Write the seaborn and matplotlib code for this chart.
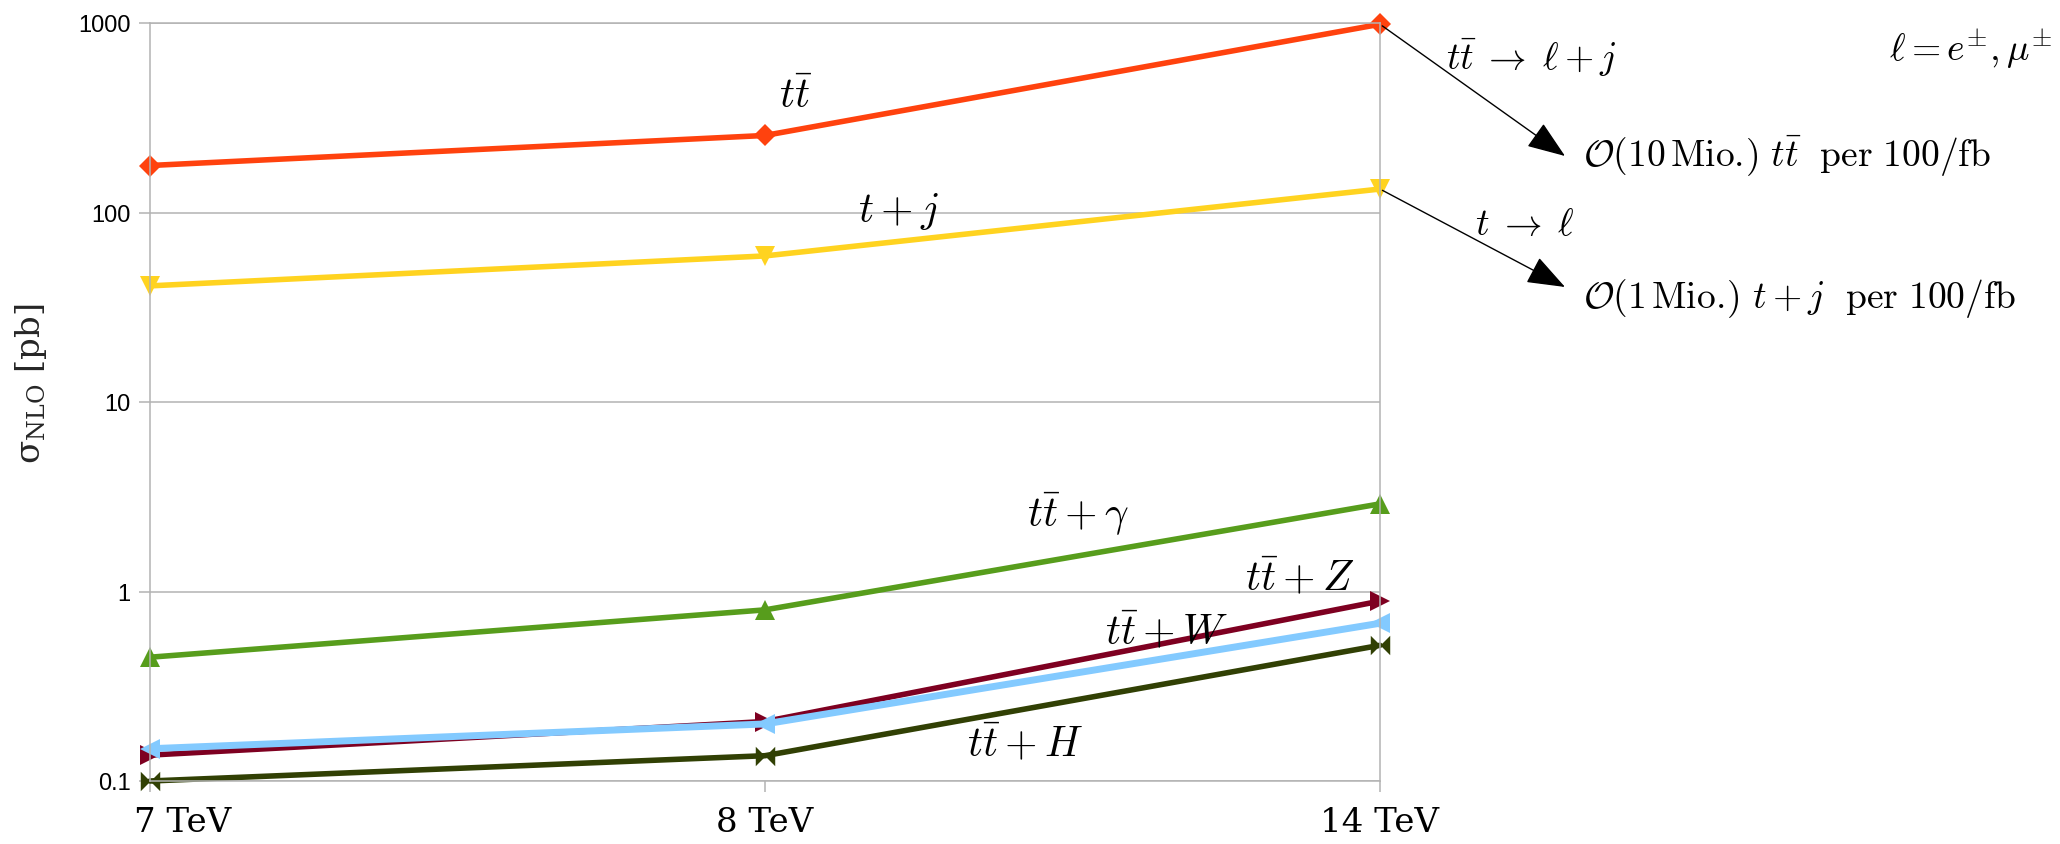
import matplotlib
matplotlib.use("Agg")
import matplotlib.pyplot as plt
import matplotlib.transforms as mtransforms
from matplotlib.path import Path
import pandas as pd
import seaborn as sns

# NLO cross sections in pb at the three LHC energies
energies = ["7 TeV", "8 TeV", "14 TeV"]
xsec_tt = [177, 255, 985]
xsec_tj = [41, 59, 133]
xsec_tta = [0.45, 0.80, 2.9]
xsec_ttz = [0.137, 0.206, 0.89]
xsec_ttw = [0.148, 0.200, 0.68]
xsec_tth = [0.100, 0.136, 0.52]

y_ticks = [0.1, 1, 10, 100, 1000]
y_tick_labels = ["0.1", "1", "10", "100", "1000"]

W, H, DPI = 2060, 845, 100

sns.set_theme(style="white")
plt.rcParams["mathtext.fontset"] = "cm"
plt.rcParams["font.family"] = ["Liberation Sans", "DejaVu Sans"]

# horizontal bow-tie marker for ttH
bowtie = Path(
    [(-1, -1), (-1, 1), (0, 0), (-1, -1), (1, -1), (1, 1), (0, 0), (1, -1)],
    [Path.MOVETO, Path.LINETO, Path.LINETO, Path.CLOSEPOLY,
     Path.MOVETO, Path.LINETO, Path.LINETO, Path.CLOSEPOLY],
)

series = [
    ("tt", xsec_tt, "#ff420e", "D", 11, 4.0),
    ("tj", xsec_tj, "#ffd320", "v", 14, 4.0),
    ("tta", xsec_tta, "#579d1c", "^", 14, 4.0),
    ("ttz", xsec_ttz, "#7e0021", ">", 14, 4.0),
    ("ttw", xsec_ttw, "#83caff", "<", 14, 5.0),
    ("tth", xsec_tth, "#314004", bowtie, 14, 4.0),
]

fig = plt.figure(figsize=(W / DPI, H / DPI), dpi=DPI)
ax = fig.add_axes([150 / W, 1 - 782 / H, (1380 - 150) / W, (782 - 24) / H])

for name, vals, color, marker, ms, lw in series:
    df = pd.DataFrame({"energy": energies, "xsec": vals})
    sns.lineplot(data=df, x="energy", y="xsec", ax=ax, sort=False,
                 color=color, lw=lw, marker=marker, markersize=ms,
                 markeredgewidth=0, markerfacecolor=color)

ax.set_yscale("log")
ax.set_ylim(0.1, 1000)
ax.set_xlim(0, len(energies) - 1)
ax.set_yticks(y_ticks)
ax.set_yticklabels(y_tick_labels)
ax.minorticks_off()
ax.set_xlabel("")
ax.set_ylabel("")

grid_c = "#b3b3b3"
ax.yaxis.grid(True, color=grid_c, lw=1.1)
ax.xaxis.grid(False)
ax.set_axisbelow(True)
for side in ["left", "right", "top", "bottom"]:
    ax.spines[side].set_visible(True)
    ax.spines[side].set_color(grid_c)
    ax.spines[side].set_linewidth(1.1)

ax.tick_params(axis="both", which="major", direction="out", length=8,
               width=1.1, color=grid_c, left=True, bottom=True)
ax.tick_params(axis="y", labelsize=17, pad=6, labelcolor="black")
ax.tick_params(axis="x", labelsize=24.5, pad=10, labelcolor="black")
for lab in ax.get_xticklabels():
    lab.set_fontfamily("DejaVu Serif")
# first energy label sits a little to the right of its tick
first = ax.get_xticklabels()[0]
first.set_transform(first.get_transform() +
                    mtransforms.ScaledTranslation(33 / DPI, 0, fig.dpi_scale_trans))

# y-axis title
fig.text(31 / W, 1 - 384 / H, r"$\mathrm{\sigma_{NLO}}$ [pb]", rotation=90,
         ha="center", va="center", fontsize=24.5, family="DejaVu Serif",
         math_fontfamily="dejavuserif")


def label(x, y, s, size=30, ha="center"):
    fig.text(x / W, 1 - y / H, s, ha=ha, va="center", fontsize=size,
             color="black", zorder=10)


# process labels next to their curves
label(796, 97, r"$t\bar{t}$")
label(898, 211, r"$t+j$")
label(1078, 514, r"$t\bar{t}+\gamma$")
label(1300, 579, r"$t\bar{t}+Z$")
label(1166, 633, r"$t\bar{t}+W$")
label(1025, 745, r"$t\bar{t}+H$")

# decay channels and event yields
label(1531, 57, r"$t\bar{t}\;\rightarrow\;\ell+j$", size=27)
label(1525, 225, r"$t\;\rightarrow\;\ell$", size=27)
label(1583, 156, r"$\mathcal{O}(10\,\mathrm{Mio.}\!)\ t\bar{t}\ \ \mathrm{per}\ 100/\mathrm{fb}$",
      size=27, ha="left")
label(1583, 298, r"$\mathcal{O}(1\,\mathrm{Mio.}\!)\ t+j\ \ \mathrm{per}\ 100/\mathrm{fb}$",
      size=27, ha="left")
label(1889, 50, r"$\ell=e^{\pm},\mu^{\pm}$", size=27, ha="left")

arrow_kw = dict(arrowstyle="-|>,head_length=1.6,head_width=0.6",
                color="black", lw=1.0, mutation_scale=15, shrinkA=2, shrinkB=0)
last = len(energies) - 1
ax.annotate("", xy=(1565, H - 157), xycoords="figure pixels",
            xytext=(last, xsec_tt[-1]), textcoords="data",
            arrowprops=arrow_kw, annotation_clip=False)
ax.annotate("", xy=(1565, H - 288), xycoords="figure pixels",
            xytext=(last, xsec_tj[-1]), textcoords="data",
            arrowprops=arrow_kw, annotation_clip=False)

for ln in ax.get_lines():
    ln.set_clip_on(False)

fig.savefig("out.png", dpi=DPI, facecolor="white")
